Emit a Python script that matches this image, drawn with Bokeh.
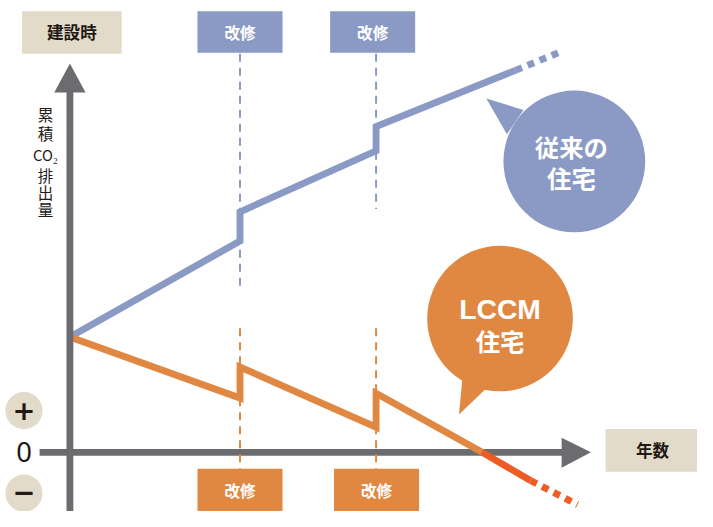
from bokeh.plotting import figure
from bokeh.models import Range1d
from bokeh.core.properties import value
from bokeh.embed import file_html
from bokeh.resources import INLINE

# ---- data (years, cumulative CO2 in arbitrary units) ----
conv_years = [0, 25, 25, 45, 45, 65.5]
conv_co2 = [119, 218, 248, 311, 336, 394]
conv_future_years = [65.5, 72.1]
conv_future_co2 = [394, 413]

lccm_years = [0, 25, 25, 45, 45, 60.6]
lccm_co2 = [119, 56, 88, 26, 61, 0]
lccm_neg_years = [60.6, 67.7]
lccm_neg_co2 = [0, -29]
lccm_future_years = [67.7, 74.6]
lccm_future_co2 = [-29, -54]

renovation_years = [25, 45]
renovation_label = "改修"

# ---- layout helpers (design pixel -> data units) ----
K = 6.96          # design px per year
X0, Y0 = 71, 466  # design pixel of origin
W, H = 697, 511
S = W / 713.0     # design -> screen scale


def X(px):
    return (px - X0) / K


def Y(py):
    return Y0 - py


def PXW(w):
    return w / K


def fs(v):
    return "%.1fpx" % (v * S)


BLUE = "#8A9AC4"
ORANGE = "#E08842"
RED = "#EE5C24"
GRAY = "#6C6C70"
BEIGE = "#E2DBC9"
DARK = "#231815"
JP = value("Noto Sans CJK JP")
LW = 7 * S

p = figure(width=W, height=H,
           x_range=Range1d(X(0), X(713)), y_range=Range1d(Y(527), Y(0)),
           output_backend="svg", toolbar_location=None, min_border=0,
           x_axis_type=None, y_axis_type=None)
p.outline_line_color = None
p.background_fill_color = "white"
p.border_fill_color = "white"
for g in p.grid:
    g.visible = False

# x axis (drawn beneath lines)
p.line([X(40), X(576)], [0, 0], line_color=GRAY, line_width=LW)
p.patch([X(604), X(574), X(574)], [Y(466), Y(451), Y(482)], fill_color=GRAY, line_color=None)

# vertical dashed renovation guides
top_ends = [Y(297), Y(215)]
for ry, te in zip(renovation_years, top_ends):
    p.line([ry, ry], [Y(55), te], line_color=BLUE, line_width=2, line_dash="8 6")
    p.line([ry, ry], [Y(338), Y(484)], line_color=ORANGE, line_width=2, line_dash="8 6")

# series lines
p.line(conv_years, conv_co2, line_color=BLUE, line_width=LW, line_join="miter")
p.line(conv_future_years, conv_future_co2, line_color=BLUE, line_width=LW, line_dash="7 6")
p.line(lccm_years, lccm_co2, line_color=ORANGE, line_width=LW, line_join="miter")
p.line(lccm_neg_years, lccm_neg_co2, line_color=RED, line_width=LW)
p.line(lccm_future_years, lccm_future_co2, line_color=RED, line_width=LW, line_dash="7 6")

# y axis
p.line([0, 0], [Y(94), Y(540)], line_color=GRAY, line_width=LW)
p.patch([X(71), X(55), X(87)], [Y(65), Y(95), Y(95)], fill_color=GRAY, line_color=None)

# renovation boxes (top blue, bottom orange)
hw = PXW(43.5)
top_cx = [renovation_years[0], renovation_years[1] - PXW(3.5)]
bot_cx = [renovation_years[0], renovation_years[1] + PXW(0.5)]
p.quad(left=[c - hw for c in top_cx], right=[c + hw for c in top_cx],
       top=[Y(11)] * 2, bottom=[Y(54)] * 2, fill_color=BLUE, line_color=None)
p.quad(left=[c - hw for c in bot_cx], right=[c + hw for c in bot_cx],
       top=[Y(483)] * 2, bottom=[Y(530)] * 2, fill_color=ORANGE, line_color=None)
p.text(x=top_cx, y=[Y(32.5)] * 2, text=[renovation_label] * 2,
       text_font=JP, text_font_size=fs(16), text_font_style="bold", text_color="white",
       text_align="center", text_baseline="middle")
p.text(x=bot_cx, y=[Y(505)] * 2, text=[renovation_label] * 2,
       text_font=JP, text_font_size=fs(16), text_font_style="bold", text_color="white",
       text_align="center", text_baseline="middle")

# axis title boxes
p.quad(left=[X(22), X(619)], right=[X(124), X(720)], top=[Y(11), Y(442)],
       bottom=[Y(55), Y(486)], fill_color=BEIGE, line_color=None)
p.text(x=[X(73), X(667)], y=[Y(33), Y(464)], text=["建設時", "年数"],
       text_font=JP, text_font_size=fs(17), text_font_style="bold", text_color=DARK,
       text_align="center", text_baseline="middle")

# vertical y label
ylab_chars = ["累", "積", "CO₂", "排", "出", "量"]
ylab_py = [117, 137, 159, 180, 198, 215]
ylab_sizes = [16, 16, 15, 16, 16, 16]
for ch, py, sz in zip(ylab_chars, ylab_py, ylab_sizes):
    p.text(x=[X(46)], y=[Y(py)], text=[ch], text_font=JP, text_font_size=fs(sz),
           text_color=DARK, text_align="center", text_baseline="middle")

# + / 0 / − markers
p.scatter(x=[X(24), X(24)], y=[Y(423), Y(508)], size=38 * S, marker="circle",
          fill_color=BEIGE, line_color=None)
p.text(x=[X(24)], y=[Y(422)], text=["+"], text_font=value("DejaVu Sans"),
       text_font_size=fs(28), text_font_style="bold", text_color=DARK,
       text_align="center", text_baseline="middle")
p.text(x=[X(24)], y=[Y(507)], text=["−"], text_font=value("DejaVu Sans"),
       text_font_size=fs(28), text_font_style="bold", text_color=DARK,
       text_align="center", text_baseline="middle")
p.text(x=[X(24)], y=[Y(466)], text=["0"], text_font=value("Noto Sans"),
       text_font_size=fs(28), text_color=DARK,
       text_align="center", text_baseline="middle")

# speech bubbles
p.patch([X(497), X(535), X(518)], [Y(101), Y(113), Y(138)], fill_color=BLUE, line_color=None)
p.scatter(x=[X(587)], y=[Y(166)], size=145 * S, marker="circle", fill_color=BLUE, line_color=None)
p.text(x=[X(584), X(584)], y=[Y(151), Y(183)], text=["従来の", "住宅"],
       text_font=JP, text_font_size=fs(25), text_font_style="bold", text_color="white",
       text_align="center", text_baseline="middle")

p.patch([X(469), X(473), X(500)], [Y(427), Y(385), Y(397)], fill_color=ORANGE, line_color=None)
p.scatter(x=[X(511)], y=[Y(328)], size=149 * S, marker="circle", fill_color=ORANGE, line_color=None)
p.text(x=[X(511)], y=[Y(318)], text=["LCCM"], text_font=value("Liberation Sans"),
       text_font_size=fs(29), text_font_style="bold", text_color="white",
       text_align="center", text_baseline="middle")
p.text(x=[X(511)], y=[Y(351)], text=["住宅"], text_font=JP, text_font_size=fs(25),
       text_font_style="bold", text_color="white",
       text_align="center", text_baseline="middle")

open("out.html", "w").write(file_html(p, INLINE))
